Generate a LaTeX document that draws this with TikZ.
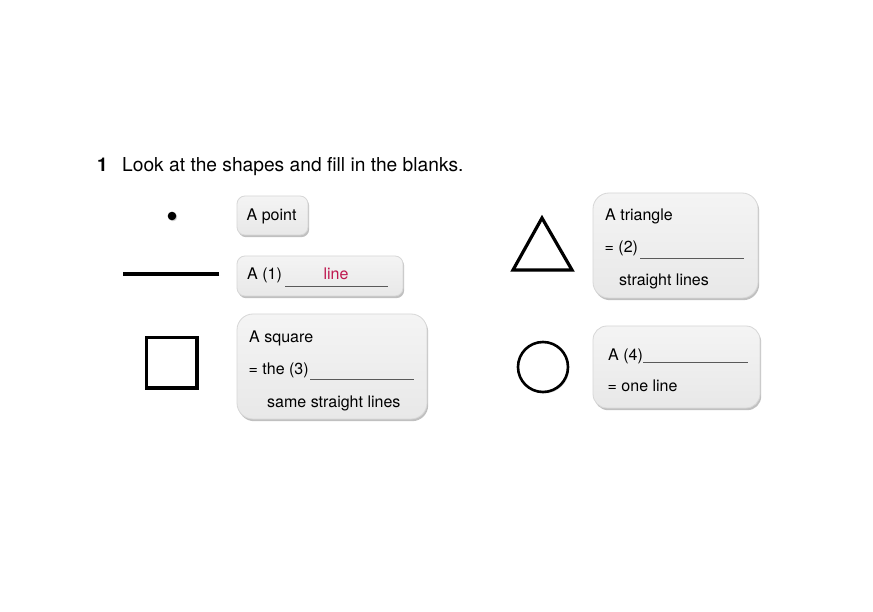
\documentclass[tikz,border=0pt]{standalone}
\usepackage{fontspec}
\setmainfont{TeX Gyre Heros}
\usetikzlibrary{shadows}
\definecolor{ansred}{RGB}{190,22,78}
\definecolor{boxfill}{RGB}{232,232,232}
\definecolor{boxtop}{RGB}{244,244,244}
\definecolor{boxrim}{RGB}{215,215,215}
\tikzset{
  card/.style={draw=boxrim, line width=0.8pt, top color=boxtop, bottom color=boxfill,
    drop shadow={shadow xshift=1.2pt, shadow yshift=-2.2pt, opacity=0.35, fill=black!70}},
  txt/.style={anchor=base west, inner sep=0pt, font=\fontsize{16}{19}\selectfont},
  blank/.style={line width=0.9pt, black!65},
  figshape/.style={line width=3.2pt, fill=white,
    drop shadow={shadow xshift=1.2pt, shadow yshift=-1.5pt, opacity=0.3, fill=black!60}}
}
\begin{document}
\begin{tikzpicture}[x=1pt,y=-1pt]
\useasboundingbox (0,0) rectangle (873,612);
\fill[white] (0,0) rectangle (873,612);

% title
\node[anchor=base west, inner sep=0pt, font=\fontsize{19}{22}\selectfont\bfseries] (num) at (97,172) {1};
\node[anchor=base west, inner sep=0pt, font=\fontsize{19.2}{22}\selectfont] (title) at (122,172) {Look at the shapes and fill in the blanks.};

% shapes
\fill[black, drop shadow={shadow xshift=1pt, shadow yshift=-1pt, opacity=0.35}] (172,216) circle (4.3) node (dot) {};
\draw[line width=4.2pt, drop shadow={shadow xshift=1pt, shadow yshift=-1.5pt, opacity=0.35}] (123,274) coordinate (la) -- (219,274) coordinate (lb);
\draw[figshape] (146.5,337.5) rectangle (197,388);
\node (sq) at (171.75,362.75) {};
\draw[figshape, line join=miter] (542,218) -- (572,270) -- (513,270) -- cycle;
\node (tri) at (542,252) {};
\draw[figshape, line width=2.6pt] (543,367) circle (25) node (circ) {};

% cards
\draw[card, rounded corners=8pt] (237,196) rectangle (308,235) node[pos=0.5] (c1) {};
\draw[card, rounded corners=8pt] (237,256) rectangle (403,296) node[pos=0.5] (c2) {};
\draw[card, rounded corners=16pt] (237,314) rectangle (427,419) node[pos=0.5] (c3) {};
\draw[card, rounded corners=16pt] (593,193) rectangle (758,298) node[pos=0.5] (c4) {};
\draw[card, rounded corners=14pt] (593,326) rectangle (760,408) node[pos=0.5] (c5) {};

% card 1
\node[txt] (t1) at (246.5,221) {A point};
% card 2
\node[txt] (t2) at (247,280) {A (1)};
\draw[blank] (285,286) coordinate (u1a) -- (388,286) coordinate (u1b);
\node[txt, anchor=base, text=ansred] (ans1) at (336,280) {line};
% card 3
\node[txt] (t3a) at (249,342) {A square};
\node[txt] (t3b) at (248.5,374) {= the (3)};
\draw[blank] (310,379.5) coordinate (u3a) -- (414,379.5) coordinate (u3b);
\node[txt] (t3c) at (267,407) {same straight lines};
% card 4
\node[txt] (t4a) at (605,221) {A triangle};
\node[txt] (t4b) at (604.5,253) {= (2)};
\draw[blank] (640,258.5) coordinate (u4a) -- (744,258.5) coordinate (u4b);
\node[txt] (t4c) at (619,286) {straight lines};
% card 5
\node[txt] (t5a) at (608,360) {A (4)};
\draw[blank] (643,362.5) coordinate (u5a) -- (748,362.5) coordinate (u5b);
\node[txt] (t5b) at (607.5,391) {= one line};
\end{tikzpicture}
\end{document}
